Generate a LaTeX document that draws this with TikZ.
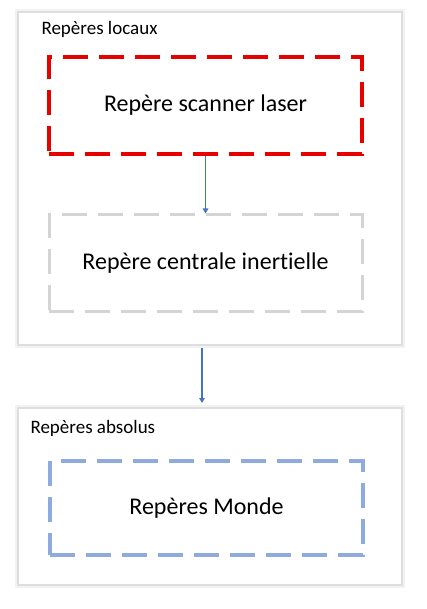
\documentclass[tikz,border=0pt]{standalone}
\usepackage{fontspec}
\setmainfont{Carlito}[Ligatures=NoCommon]
\usetikzlibrary{arrows.meta,positioning}
\definecolor{rougeA}{RGB}{230,0,0}
\definecolor{grisA}{RGB}{212,212,212}
\definecolor{bleuA}{RGB}{143,170,220}
\definecolor{bleuB}{RGB}{68,114,196}
\tikzset{
frame/.style = { rectangle, draw = black!13, line width = 2pt, fill = white,
  preaction = { draw = black!5, line width = 6pt } },
repere/.style = { rectangle, line width = 3.5pt, dash pattern = on 25pt off 11pt,
  minimum width = 313pt, font = \fontsize{24}{28}\selectfont },
scanner/.style = { repere, draw = rougeA },
centrale/.style = { repere, draw = grisA, line width = 3pt },
monde/.style = { repere, draw = bleuA },
caption/.style = { anchor = west, font = \fontsize{19}{22}\selectfont },
link/.style = { draw = bleuB, line width = 1.4pt, -{Triangle[length=5pt,width=5.5pt]} }
}
\begin{document}
\begin{tikzpicture}[x=1pt,y=-1pt]
	\useasboundingbox (0,0) rectangle (427,609);
	% cadres
	\node (locaux) [frame, minimum width=384pt, minimum height=333pt] at (210,178.5) {};
	\node (absolus) [frame, minimum width=384pt, minimum height=177pt] at (210,496.5) {};
	\node [caption] at (38,29) {Repères locaux};
	\node [caption] at (27,428) {Repères absolus};
	% reperes
	\node (scanner) [scanner, minimum height=97pt] at (205.5,105.5) {Repère scanner laser};
	\node (centrale) [centrale, minimum height=96pt] at (205.5,263) {Repère centrale inertielle};
	\node (monde) [monde, minimum height=94pt] at (206.5,508) {Repères Monde};
	% liens
	\draw [link] (scanner.south) -- (centrale.north);
	\draw [link] ([xshift=-8pt,yshift=-2pt]locaux.south) -- ([xshift=-8pt,yshift=4pt]absolus.north);
\end{tikzpicture}
\end{document}
